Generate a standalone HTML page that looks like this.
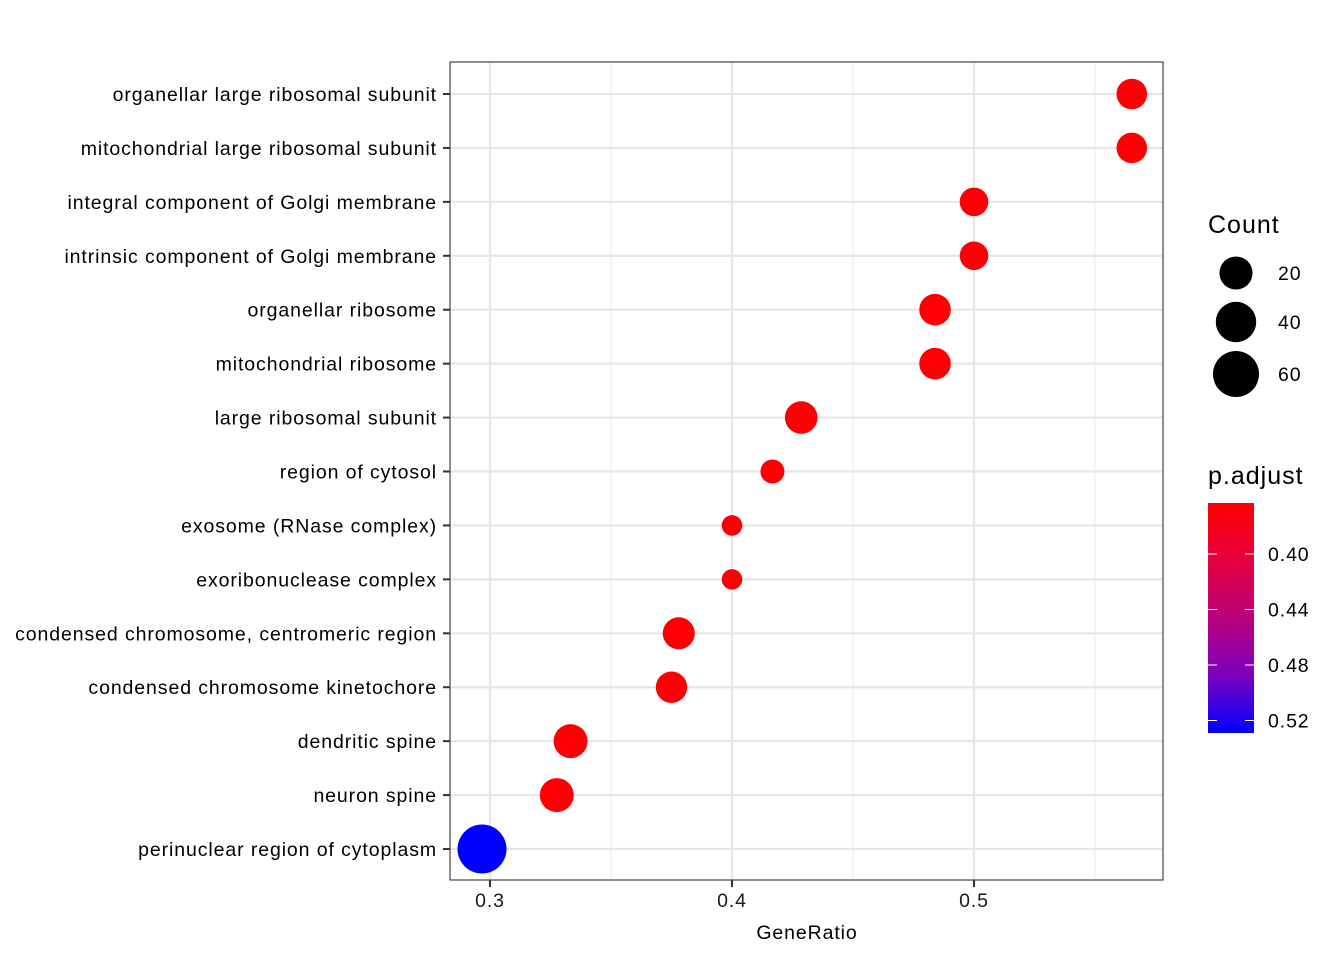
<!DOCTYPE html>
<html><head><meta charset="utf-8"><style>
body{margin:0;background:#fff}
svg{display:block;font-family:"Liberation Sans",Arial,sans-serif}
.lab{font-size:19.5px;letter-spacing:0.9px}
.ttl{font-size:25px;letter-spacing:1px}
</style></head><body>
<svg id="chart" width="1344" height="960" viewBox="0 0 1344 960">
<defs>
<linearGradient id="pgrad" x1="0" y1="0" x2="0" y2="1">
<stop offset="0" stop-color="#ff0000"/><stop offset="0.25" stop-color="#e6003f"/><stop offset="0.5" stop-color="#b8007a"/><stop offset="0.75" stop-color="#7c00bd"/><stop offset="1" stop-color="#0000ff"/>
</linearGradient>
</defs>
<rect x="450" y="62" width="713" height="818" fill="#fff"/>
<g id="grid"></g>
<g id="points"></g>
<rect x="450" y="62" width="713" height="818" fill="none" stroke="#333" stroke-width="1.1"/>
<g id="axes"></g>
<text class="lab" x="807" y="939" text-anchor="middle" fill="#000">GeneRatio</text>
<g>
<text class="ttl" x="1208" y="233" fill="#000">Count</text>
<g id="sizeleg"></g>
</g>
<g>
<text class="ttl" x="1208" y="484" fill="#000">p.adjust</text>
<rect x="1208" y="503" width="46" height="230" fill="url(#pgrad)"/>
<g id="colleg"></g>
</g>
</svg>
<script>
const categories = ["organellar large ribosomal subunit","mitochondrial large ribosomal subunit","integral component of Golgi membrane","intrinsic component of Golgi membrane","organellar ribosome","mitochondrial ribosome","large ribosomal subunit","region of cytosol","exosome (RNase complex)","exoribonuclease complex","condensed chromosome, centromeric region","condensed chromosome kinetochore","dendritic spine","neuron spine","perinuclear region of cytoplasm"];
const geneRatio = [0.5652,0.5652,0.5,0.5,0.4839,0.4839,0.4286,0.4167,0.4,0.4,0.378,0.375,0.3333,0.3276,0.2967];
const counts = [14.7,14.7,11.1,11.1,16.7,16.7,18.9,4.7,1.7,1.7,17.6,16.3,22,22,72];
const padj = [0.365,0.365,0.365,0.365,0.365,0.365,0.365,0.365,0.365,0.365,0.365,0.365,0.365,0.365,0.529];
const xTicks = [0.3,0.4,0.5];
const xMinor = [0.35,0.45,0.55];
const sizeBreaks = [20,40,60];
const colBreaks = [0.40,0.44,0.48,0.52];

const NS="http://www.w3.org/2000/svg";
function X(v){return 490+(v-0.3)*2420;}
function Y(i){return 94+i*53.93;}
function R(c){return 1.98*Math.sqrt(c)+7.7;}
function CY(p){return 554+(p-0.40)/0.04*55.5;}
const stops=[[255,0,0],[230,0,63],[184,0,122],[124,0,189],[0,0,255]];
function col(p){let t=(CY(p)-503)/230;t=Math.max(0,Math.min(1,t));let s=t*4,i=Math.min(3,Math.floor(s)),f=s-i;const a=stops[i],b=stops[i+1];return "rgb("+a.map((v,k)=>Math.round(v+(b[k]-v)*f)).join(",")+")";}
function mk(tag,attrs,parent){const e=document.createElementNS(NS,tag);for(const k in attrs)e.setAttribute(k,attrs[k]);parent.appendChild(e);return e;}
const grid=document.getElementById('grid'),pts=document.getElementById('points'),axes=document.getElementById('axes');
xMinor.forEach(v=>{const l=mk('line',{x1:X(v),x2:X(v),y1:62,y2:880,stroke:'#ebebeb','stroke-width':1.1},grid);

});
xTicks.forEach(v=>{const l=mk('line',{x1:X(v),x2:X(v),y1:62,y2:880,stroke:'#e6e6e6','stroke-width':2.2},grid);


const t=mk('line',{x1:X(v),x2:X(v),y1:880,y2:887,stroke:'#333','stroke-width':2},axes);


const tx=mk('text',{x:X(v),y:907,'class':'lab','text-anchor':'middle',fill:'#1a1a1a'},axes);tx.textContent=v.toFixed(1);

});
categories.forEach((c,i)=>{const y=Y(i);
const l=mk('line',{x1:450,x2:1163,y1:y,y2:y,stroke:'#e6e6e6','stroke-width':2.2},grid);


const t=mk('line',{x1:443,x2:450,y1:y,y2:y,stroke:'#333','stroke-width':2},axes);


const tx=mk('text',{x:437,y:y+7,'class':'lab','text-anchor':'end',fill:'#000'},axes);tx.textContent=c;


const p=mk('circle',{cx:X(geneRatio[i]),cy:y,r:R(counts[i]),fill:col(padj[i])},pts);

});
const sl=document.getElementById('sizeleg');const sy=[273,322,374];
sizeBreaks.forEach((b,i)=>{const c=mk('circle',{cx:1236,cy:sy[i],r:R(b),fill:'#000'},sl);


const t=mk('text',{x:1278,y:sy[i]+7,'class':'lab',fill:'#000'},sl);t.textContent=b;

});
const cl=document.getElementById('colleg');
colBreaks.forEach(b=>{const y=CY(b);
const a=mk('line',{x1:1208,x2:1217,y1:y,y2:y,stroke:'#fff','stroke-width':1},cl);


const a2=mk('line',{x1:1245,x2:1254,y1:y,y2:y,stroke:'#fff','stroke-width':1},cl);


const t=mk('text',{x:1268,y:y+7,'class':'lab',fill:'#000'},cl);t.textContent=b.toFixed(2);

});
</script>
</body></html>
